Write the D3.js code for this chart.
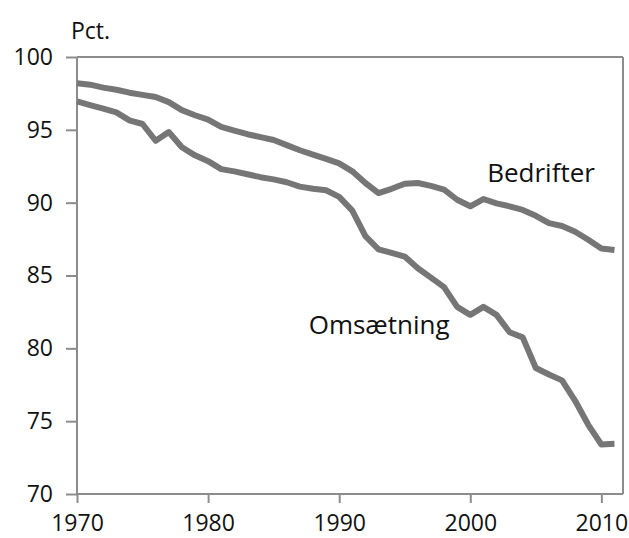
<!DOCTYPE html>
<html><head><meta charset="utf-8">
<script src="https://cdn.jsdelivr.net/npm/d3@7"></script>
<style>body{margin:0;background:#fff}svg{display:block}</style>
</head><body>
<svg id="c" width="629" height="538"></svg>
<script>
const years = d3.range(1970, 2012);
const bedrifter = [98.2,98.1,97.9,97.75,97.55,97.4,97.25,96.9,96.35,96.0,95.7,95.2,94.95,94.7,94.5,94.3,93.95,93.6,93.3,93.0,92.7,92.15,91.35,90.66,90.95,91.3,91.35,91.15,90.9,90.2,89.75,90.25,89.95,89.75,89.5,89.1,88.6,88.4,88.0,87.45,86.85,86.75];
const omsaetning = [96.95,96.7,96.45,96.2,95.65,95.4,94.25,94.85,93.8,93.25,92.85,92.3,92.15,91.95,91.75,91.6,91.4,91.1,90.95,90.85,90.4,89.45,87.7,86.8,86.55,86.3,85.5,84.85,84.2,82.85,82.3,82.85,82.3,81.1,80.75,78.65,78.2,77.8,76.4,74.75,73.4,73.45];
const yTicks = [70,75,80,85,90,95,100];
const xTicks = [1970,1980,1990,2000,2010];
const labels = [{text:"Bedrifter", x:2005.4, y:91.45},{text:"Omsætning", x:1993.05, y:81.0}];

const svg = d3.select("#c");
const L=77, R=623, T=57, B=494;
const x = d3.scaleLinear().domain([1970, 2011.65]).range([L, R]);
const y = d3.scaleLinear().domain([70, 100]).range([B, T]);
const font = "'Open Sans', 'DejaVu Sans', sans-serif";
const axisCol = "#8c8c8c";

svg.append("line").attr("x1",L).attr("x2",R).attr("y1",T).attr("y2",T).attr("stroke",axisCol).attr("stroke-width",2);
svg.append("line").attr("x1",R).attr("x2",R).attr("y1",T).attr("y2",B).attr("stroke",axisCol).attr("stroke-width",2);

const ya = svg.append("g").attr("transform",`translate(${L},0)`)
  .call(d3.axisLeft(y).tickValues(yTicks).tickSize(11).tickPadding(13));
const xa = svg.append("g").attr("transform",`translate(0,${B})`)
  .call(d3.axisBottom(x).tickValues(xTicks).tickFormat(d3.format("d")).tickSize(9).tickPadding(12));
[ya,xa].forEach(a=>{
  a.selectAll("path,line").attr("stroke",axisCol).attr("stroke-width",2);
  a.select(".domain").attr("d", a===ya ? `M0,${T}V${B}` : `M${L},0H${R}`);
  a.selectAll("text").attr("font-family",font).attr("font-size",23).attr("fill","#111");
});

const line = d3.line().x((d,i)=>x(years[i])).y(d=>y(d));
[bedrifter, omsaetning].forEach(s=>{
  svg.append("path").datum(s).attr("d",line).attr("fill","none")
    .attr("stroke","#767676").attr("stroke-width",6).attr("stroke-linejoin","round");
});

svg.append("text").attr("x",71).attr("y",39).text("Pct.")
  .attr("font-family",font).attr("font-size",23).attr("fill","#111");
labels.forEach(l=>svg.append("text").attr("x",x(l.x)).attr("y",y(l.y))
  .attr("text-anchor","middle").text(l.text)
  .attr("font-family",font).attr("font-size",26).attr("fill","#111"));
</script>
</body></html>
